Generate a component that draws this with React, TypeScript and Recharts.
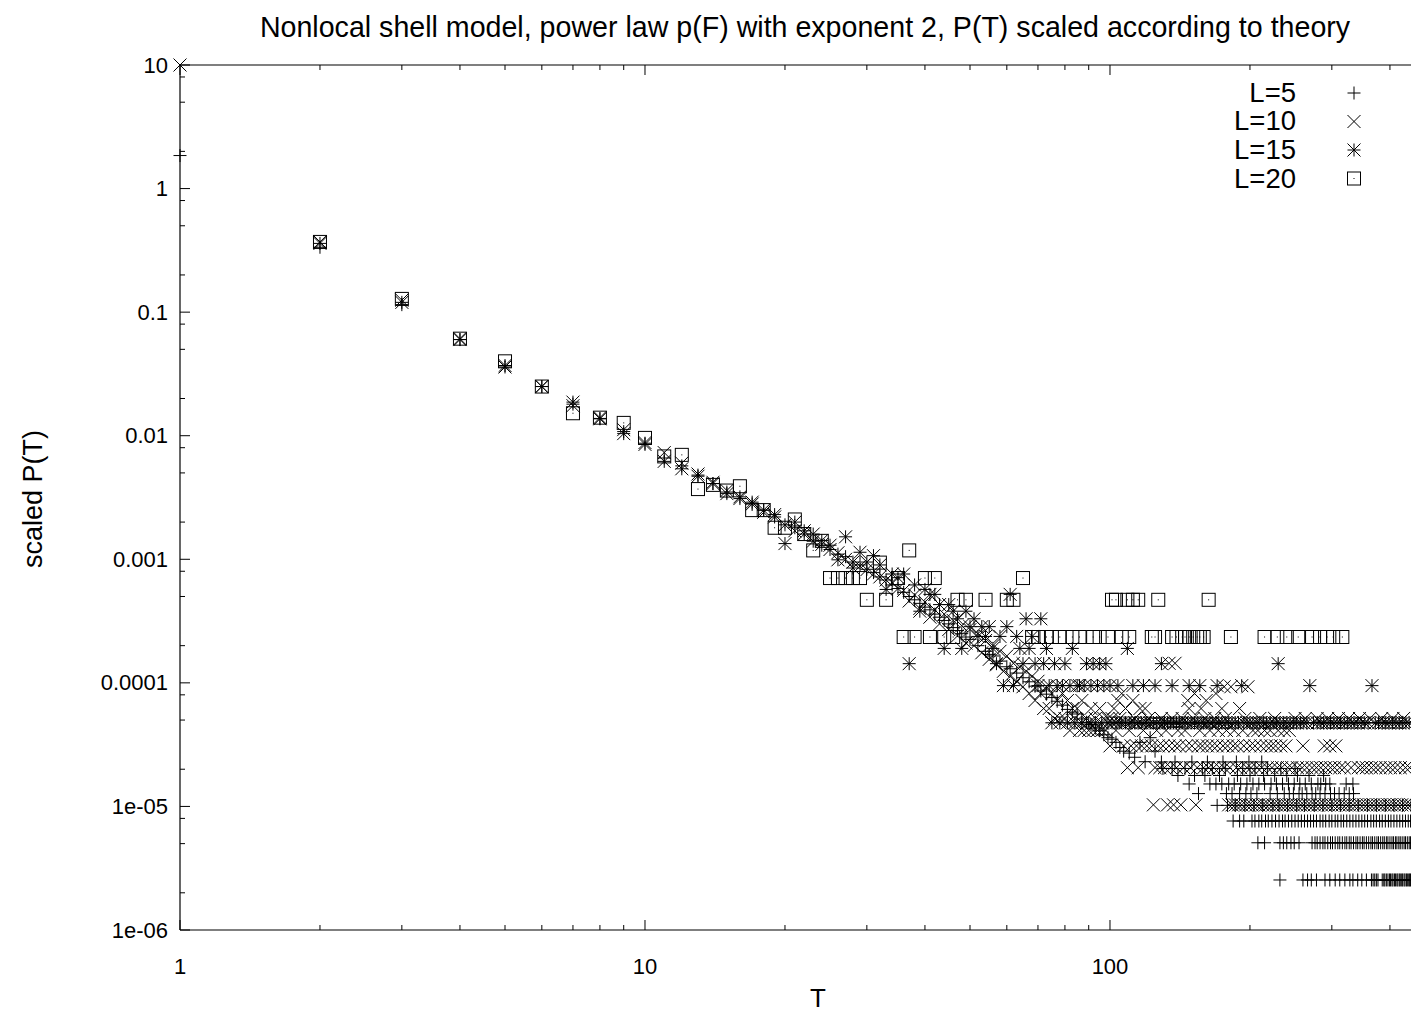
import React from 'react';
import { ScatterChart, Scatter, XAxis, YAxis } from 'recharts';

// axis ticks
const X_MAJOR = [1, 10, 100];
const X_TICKS = [1, 2, 3, 4, 5, 6, 7, 8, 9, 10, 20, 30, 40, 50, 60, 70, 80, 90, 100, 200, 300, 400, 500];
const Y_MAJOR = [1e-6, 1e-5, 1e-4, 1e-3, 1e-2, 0.1, 1, 10];
const Y_MAJOR_LABELS = ['1e-06', '1e-05', '0.0001', '0.001', '0.01', '0.1', '1', '10'];
const Y_TICKS = [
    1e-6, 2e-6, 5e-6, 8e-6, 1e-5, 2e-5, 5e-5, 8e-5, 1e-4, 2e-4, 5e-4, 8e-4,
    1e-3, 2e-3, 5e-3, 8e-3, 1e-2, 0.02, 0.05, 0.08, 0.1, 0.2, 0.5, 0.8, 1, 2, 5, 8, 10,
];

// ---- L=5 (+) ----
const L5_HEAD: [number, number][] = [
    [1, 1.85], [2, 0.335], [3, 0.115], [4, 0.060], [5, 0.037], [6, 0.025], [7, 0.018], [8, 0.0138],
    [9, 0.0108], [10, 0.0087], [11, 0.0066], [12, 0.0057], [13, 0.0048], [14, 0.0041], [15, 0.0035],
    [16, 0.0032], [17, 0.0028], [18, 0.0025], [19, 0.0022], [20, 0.0019], [21, 0.0018], [22, 0.0016],
    [23, 0.0014], [24, 0.0013], [25, 0.0012], [26, 0.0011], [27, 0.00105], [28, 0.00095], [29, 0.0009],
    [30, 0.00083], [31, 0.00078], [32, 0.00072], [33, 0.00068], [34, 0.00062], [35, 0.00058], [36, 0.00054],
    [37, 5.0e-4], [38, 4.7e-4], [39, 4.4e-4], [40, 4.1e-4], [41, 3.9e-4], [42, 3.6e-4], [43, 3.4e-4],
    [44, 3.2e-4], [45, 3.0e-4], [46, 2.8e-4], [47, 2.65e-4], [48, 2.5e-4], [49, 2.35e-4], [50, 2.25e-4],
    [52, 2.0e-4], [54, 1.8e-4], [55, 1.7e-4], [56, 1.65e-4], [58, 1.5e-4], [60, 1.35e-4], [61, 1.3e-4],
    [63, 1.2e-4], [65, 1.1e-4], [67, 1.02e-4], [69, 9.4e-5], [71, 8.6e-5], [73, 8.1e-5], [75, 7.6e-5],
    [77, 7.1e-5], [79, 6.6e-5], [81, 6.1e-5], [83, 5.8e-5], [85, 5.6e-5], [87, 5.1e-5], [89, 4.8e-5],
    [91, 4.6e-5], [93, 4.3e-5], [95, 4.1e-5], [97, 3.8e-5], [99, 3.6e-5], [101, 3.5e-5], [103, 3.3e-5],
    [105, 3.0e-5], [107, 2.8e-5], [110, 2.7e-5], [113, 2.5e-5], [116, 3.3e-5], [119, 2.3e-5],
    [122, 3.6e-5], [125, 2.8e-5],
];
const L5_ROWS: [number, number[]][] = [
    [2.29e-5, [129, 138, 150, 162, 175, 187, 199, 212]],
    [2.03e-5, [130, 136, 145, 158, 166, 177, 193, 205, 218, 233, 250]],
    [1.78e-5, [140, 152, 160, 172, 188, 200, 214, 226, 240, 253, 268, 288]],
    [1.52e-5, [148, 164, 169, 174, 180, 185, 191, 197, 203, 209, 215, 222, 228, 235, 242, 249, 256, 263, 271, 280, 284, 291, 297, 322, 333]],
    [1.27e-5, [155, 178, 183, 190, 196, 201, 207, 221, 229, 237, 243, 248, 255, 259, 265, 272, 277, 283, 290, 298, 304, 311, 319, 327, 334]],
    [1.02e-5, [170, 179, 186, 195, 204, 213, 224, 231, 241, 252, 262, 275, 287, 300, 313, 327, 342, 358, 374, 391, 408, 426, 444]],
    [7.62e-6, [184, 190, 194, 202, 205, 209, 212, 216, 219, 223, 227, 231, 235, 238, 242, 246, 250, 254, 258, 262, 266, 270, 274, 278, 283, 287, 291, 296, 300, 305, 309, 314, 318, 323, 328, 333, 338, 343, 348, 353, 358, 364, 369, 374, 380, 385, 391, 397, 402, 408, 414, 420, 426, 432, 438, 443]],
    [5.08e-6, [208, 215, 232, 236, 240, 245, 249, 255, 272, 276, 279, 283, 287, 290, 294, 298, 301, 305, 309, 312, 316, 320, 323, 327, 330, 334, 338, 341, 345, 349, 352, 356, 360, 364, 367, 371, 375, 378, 382, 386, 389, 393, 396, 400, 404, 407, 411, 414, 418, 421, 425, 429, 432, 436, 440, 443]],
    [2.54e-6, [232, 260, 266, 271, 278, 290, 297, 305, 312, 320, 328, 333, 341, 348, 356, 365, 368, 371, 374, 377, 385, 388, 390, 393, 396, 399, 401, 404, 406, 409, 411, 414, 416, 419, 421, 424, 426, 429, 431, 434, 436, 439, 441, 443]],
];

// ---- L=10 (x) ----
const L10_HEAD: [number, number][] = [
    [1, 10], [2, 0.37], [3, 0.125], [4, 0.061], [5, 0.037], [6, 0.025], [7, 0.0175], [8, 0.014],
    [9, 0.0112], [10, 0.0088], [11, 0.0073], [12, 0.006], [13, 0.0049], [14, 0.0042], [15, 0.0036],
    [16, 0.0032], [17, 0.0028], [18, 0.0024], [19, 0.0022], [20, 0.0019], [21, 0.0017], [22, 0.0016],
    [23, 0.0014], [24, 0.00132], [25, 0.0012], [26, 0.00113], [27, 0.001], [28, 0.00095], [29, 0.00088],
    [30, 8.24e-4], [31, 7.6e-4], [32, 7.2e-4], [33, 6.8e-4], [34, 6.5e-4], [35, 5.8e-4], [36, 5.6e-4],
    [37, 4.6e-4], [38, 5.15e-4], [39, 4.0e-4], [40, 4.5e-4], [41, 3.4e-4], [42, 3.9e-4], [43, 3.0e-4],
    [44, 3.6e-4], [45, 2.7e-4], [46, 3.2e-4], [47, 2.4e-4], [48, 2.9e-4], [49, 2.1e-4], [50, 2.7e-4],
    [51, 2.0e-4], [52, 2.5e-4], [53, 1.75e-4], [54, 2.2e-4], [55, 1.55e-4], [56, 2.0e-4], [57, 1.4e-4],
    [58, 1.8e-4], [59, 1.24e-4], [60, 1.65e-4], [61, 1.13e-4], [62, 1.44e-4], [63, 1.03e-4], [64, 1.34e-4],
    [65, 9.3e-5], [66, 1.24e-4], [67, 8.2e-5], [68, 1.13e-4], [69, 7.2e-5], [70, 1.03e-4], [71, 8.2e-5],
    [72, 6.2e-5], [73, 9.3e-5], [74, 6.2e-5], [75, 8.2e-5], [76, 5.15e-5], [77, 7.2e-5], [78, 5.15e-5],
    [79, 8.2e-5], [80, 5.15e-5], [81, 7.2e-5], [82, 4.12e-5], [83, 6.2e-5], [84, 5.15e-5], [85, 6.2e-5],
    [86, 4.12e-5], [87, 7.2e-5], [88, 4.12e-5], [89, 5.15e-5], [90, 4.12e-5], [91, 6.2e-5], [92, 4.12e-5],
    [93, 5.15e-5], [94, 4.12e-5], [95, 6.2e-5], [96, 4.12e-5], [97, 5.15e-5], [98, 4.12e-5], [99, 5.15e-5],
];
const L10_ROWS: [number, number[]][] = [
    [1.44e-4, [134, 138]],
    [9.3e-5, [176, 182, 198]],
    [8.2e-5, [106, 152, 169]],
    [7.2e-5, [104, 112, 147, 161]],
    [6.2e-5, [102, 108, 116, 119, 148, 157, 174, 190]],
    [5.15e-5, [101, 105, 113, 121, 129, 136, 143, 151, 160, 168, 177, 195, 210, 226, 250, 263, 279, 294, 310, 326, 344, 362, 384, 406, 428]],
    [4.12e-5, [103, 110, 118, 126, 132, 140, 145, 156, 164, 171, 178, 185, 193, 203, 208, 215, 221, 230, 237, 243]],
    [3.09e-5, [100, 107, 111, 114, 117, 120, 123, 127, 130, 134, 138, 141, 146, 150, 155, 158, 162, 166, 170, 175, 179, 184, 188, 194, 200, 205, 211, 217, 222, 227, 233, 239, 260, 289, 297, 306]],
    [2.06e-5, [109, 115, 125, 128, 131, 135, 139, 144, 149, 154, 159, 163, 167, 172, 176, 181, 187, 191, 197, 201, 207, 212, 218, 223, 229, 234, 241, 246, 253, 259, 265, 272, 278, 284, 291, 298, 304, 312, 319, 330, 342, 349, 356, 365, 373, 381, 392, 401, 410, 421, 432, 441]],
    [1.03e-5, [124, 133, 137, 142, 153, 180, 183, 186, 189, 192, 196, 199, 202, 206, 209, 213, 216, 220, 224, 228, 232, 236, 240, 244, 248, 252, 257, 261, 266, 270, 275, 280, 285, 290, 295, 300, 305, 311, 316, 322, 327, 333, 339, 345, 351, 357, 363, 369, 376, 382, 389, 396, 402, 409, 416, 424, 431, 438, 444]],
];

// ---- L=15 (*) ----
const L15_HEAD: [number, number][] = [
    [2, 0.36], [3, 0.12], [4, 0.060], [5, 0.036], [6, 0.025], [7, 0.0187], [8, 0.0137], [9, 0.0104],
    [10, 0.0085], [11, 0.0062], [12, 0.0054], [13, 0.0047], [14, 0.0041], [15, 0.0034], [16, 0.0031],
    [17, 0.0029], [18, 0.0025], [19, 0.0023], [20, 0.00134], [21, 0.002], [22, 0.0017], [23, 0.0016],
    [24, 0.00142], [25, 0.0013], [26, 0.00099], [27, 0.00152], [28, 0.00085], [29, 0.00114], [30, 0.00095],
    [31, 0.00107], [32, 0.0009], [33, 0.00057], [34, 0.00076], [35, 0.00071], [36, 0.00076],
];
const L15_ROWS: [number, number[]][] = [
    [6.2e-4, [38]],
    [5.7e-4, [40]],
    [5.2e-4, [41, 42, 61]],
    [4.3e-4, [43, 45]],
    [3.8e-4, [39, 46, 49]],
    [3.3e-4, [47, 51, 66, 71]],
    [2.85e-4, [50, 53, 55, 60]],
    [2.375e-4, [52, 54, 58, 63, 68]],
    [1.9e-4, [44, 48, 56, 64, 67, 73, 83, 109]],
    [1.43e-4, [37, 57, 65, 69, 72, 76, 80, 89, 92, 95, 98, 129, 230]],
    [9.5e-5, [59, 62, 70, 74, 77, 79, 82, 85, 86, 88, 91, 94, 97, 100, 104, 112, 118, 125, 136, 148, 156, 170, 192, 269, 366]],
    [4.75e-5, [75, 78, 81, 84, 87, 90, 93, 96, 99, 101, 103, 105, 106, 108, 110, 111, 113, 115, 117, 119, 120, 122, 124, 126, 128, 130, 131, 133, 135, 137, 139, 141, 143, 145, 147, 150, 152, 154, 157, 159, 161, 164, 166, 169, 171, 174, 177, 180, 183, 186, 189, 194, 197, 200, 203, 207, 210, 214, 217, 221, 225, 228, 232, 236, 240, 244, 248, 252, 257, 261, 265, 274, 279, 284, 288, 293, 298, 303, 308, 313, 319, 324, 330, 335, 341, 347, 353, 359, 372, 378, 385, 391, 398, 405, 412, 419, 426, 433, 440]],
];

// ---- L=20 (square) ----
const L20_HEAD: [number, number][] = [
    [2, 0.37], [3, 0.128], [4, 0.061], [5, 0.040], [6, 0.025], [7, 0.0152], [8, 0.014], [9, 0.0127],
    [10, 0.0096], [11, 0.0068], [12, 0.007], [13, 0.0037], [14, 0.004], [15, 0.0036], [16, 0.0039],
    [17, 0.0025], [18, 0.0025], [19, 0.0018], [20, 0.0018], [21, 0.0021], [22, 0.0016], [23, 0.00118],
    [24, 0.00141],
];
const L20_ROWS: [number, number[]][] = [
    [1.18e-3, [37]],
    [9.4e-4, [32]],
    [7.05e-4, [25, 26, 27, 28, 29, 35, 40, 42, 65]],
    [4.7e-4, [30, 33, 47, 49, 54, 60, 62, 101, 103, 109, 112, 115, 127, 163]],
    [2.35e-4, [36, 38, 41, 44, 46, 68, 70, 73, 75, 78, 83, 86, 92, 95, 99, 106, 110, 123, 125, 136, 139, 143, 145, 148, 151, 154, 156, 159, 182, 215, 229, 240, 254, 272, 283, 293, 302, 316]],
];

const toPoints = (head: [number, number][], rows: [number, number[]][]) => [
    ...head.map(([t, p]) => ({ t, p })),
    ...rows.flatMap(([p, ts]) => ts.map((t) => ({ t, p }))),
];

const S = 6.5;
const INK = '#000';

const PlusMark = ({ cx, cy }: any) => (
    <path d={`M${cx - S},${cy}H${cx + S}M${cx},${cy - S}V${cy + S}`} stroke={INK} strokeWidth={1} fill="none" />
);
const CrossMark = ({ cx, cy }: any) => (
    <path d={`M${cx - S},${cy - S}L${cx + S},${cy + S}M${cx - S},${cy + S}L${cx + S},${cy - S}`} stroke={INK} strokeWidth={1} fill="none" />
);
const StarMark = ({ cx, cy }: any) => (
    <path
        d={`M${cx - S},${cy}H${cx + S}M${cx},${cy - S}V${cy + S}M${cx - S},${cy - S}L${cx + S},${cy + S}M${cx - S},${cy + S}L${cx + S},${cy - S}`}
        stroke={INK} strokeWidth={1} fill="none"
    />
);
const BoxMark = ({ cx, cy }: any) => (
    <g>
        <rect x={cx - S} y={cy - S} width={2 * S} height={2 * S} stroke={INK} strokeWidth={1} fill="none" />
        <rect x={cx - 0.5} y={cy - 0.5} width={1} height={1} fill={INK} />
    </g>
);

const SERIES = [
    { name: 'L=5', data: toPoints(L5_HEAD, L5_ROWS), Mark: PlusMark },
    { name: 'L=10', data: toPoints(L10_HEAD, L10_ROWS), Mark: CrossMark },
    { name: 'L=15', data: toPoints(L15_HEAD, L15_ROWS), Mark: StarMark },
    { name: 'L=20', data: toPoints(L20_HEAD, L20_ROWS), Mark: BoxMark },
];

const FONT = '"Liberation Sans", Arial, Helvetica, sans-serif';

const YTick = ({ x, y, payload }: any) => {
    const i = Y_MAJOR.indexOf(payload.value);
    return (
        <g>
            <line x1={x + 12} x2={x + 12 + (i >= 0 ? 10 : 5)} y1={y} y2={y} stroke={INK} />
            {i >= 0 && (
                <text x={x} y={y} dy={7.5} textAnchor="end" fontSize={22} fontFamily={FONT} fill={INK}>
                    {Y_MAJOR_LABELS[i]}
                </text>
            )}
        </g>
    );
};

const XTickBottom = ({ x, y, payload }: any) => {
    const major = X_MAJOR.includes(payload.value);
    return (
        <g>
            <line x1={x} x2={x} y1={y - 44} y2={y - 44 - (major ? 10 : 5)} stroke={INK} />
            {major && (
                <text x={x} y={y} textAnchor="middle" fontSize={22} fontFamily={FONT} fill={INK}>
                    {payload.value}
                </text>
            )}
        </g>
    );
};

const XTickTop = ({ x, y, payload }: any) => {
    const major = X_MAJOR.includes(payload.value);
    return <line x1={x} x2={x} y1={y} y2={y + (major ? 10 : 5)} stroke={INK} />;
};

export default function App() {
    return (
        <div style={styles.page}>
            <ScatterChart width={1435} height={1013} margin={{ top: 64, right: 0, bottom: 0, left: 0 }}>
                <XAxis
                    type="number" dataKey="t" scale="log" domain={[1, 500]} ticks={X_TICKS} interval={0}
                    height={83} tickSize={0} tickMargin={44} tickLine={false} tick={<XTickBottom />}
                    axisLine={{ stroke: INK, strokeWidth: 1.2 }}
                />
                <XAxis
                    xAxisId="top" orientation="top" type="number" dataKey="t" scale="log" domain={[1, 500]}
                    ticks={X_TICKS} interval={0} height={1} tickSize={0} tickMargin={0}
                    tickLine={false} tick={<XTickTop />} axisLine={{ stroke: INK, strokeWidth: 1.2 }}
                />
                <YAxis
                    type="number" dataKey="p" scale="log" domain={[1e-6, 10]} ticks={Y_TICKS} interval={0}
                    width={180} tickSize={0} tickMargin={12} tickLine={false} tick={<YTick />}
                    axisLine={{ stroke: INK, strokeWidth: 1.2 }}
                />
                {SERIES.map(({ name, data, Mark }) => (
                    <Scatter key={name} name={name} data={data} isAnimationActive={false} shape={(p: any) => <Mark cx={p.cx} cy={p.cy} />} />
                ))}
                {/* carries the mirrored top axis (border with inward ticks) */}
                <Scatter
                    xAxisId="top" data={SERIES[0].data} isAnimationActive={false} legendType="none"
                    shape={() => <g />}
                />
            </ScatterChart>
            <svg width={1411} height={1013} style={styles.overlay}>
                <text x={805} y={37} textAnchor="middle" fontSize={28.6} fontFamily={FONT} fill={INK}>
                    Nonlocal shell model, power law p(F) with exponent 2, P(T) scaled according to theory
                </text>
                <text x={818} y={1007} textAnchor="middle" fontSize={26} fontFamily={FONT} fill={INK}>T</text>
                <text transform="translate(42,499) rotate(-90)" textAnchor="middle" fontSize={27} fontFamily={FONT} fill={INK}>
                    scaled P(T)
                </text>
                {SERIES.map(({ name, Mark }, i) => (
                    <g key={name}>
                        <text x={1296} y={101.5 + i * 28.7} textAnchor="end" fontSize={27.5} fontFamily={FONT} fill={INK}>{name}</text>
                        <Mark cx={1354} cy={93 + i * 28.5} />
                    </g>
                ))}
            </svg>
        </div>
    );
}

const styles = {
    page: {
        position: 'absolute' as const, left: 0, top: 0, width: 1411, height: 1013,
        overflow: 'hidden', background: '#fff',
    },
    overlay: { position: 'absolute' as const, left: 0, top: 0, pointerEvents: 'none' as const },
};
